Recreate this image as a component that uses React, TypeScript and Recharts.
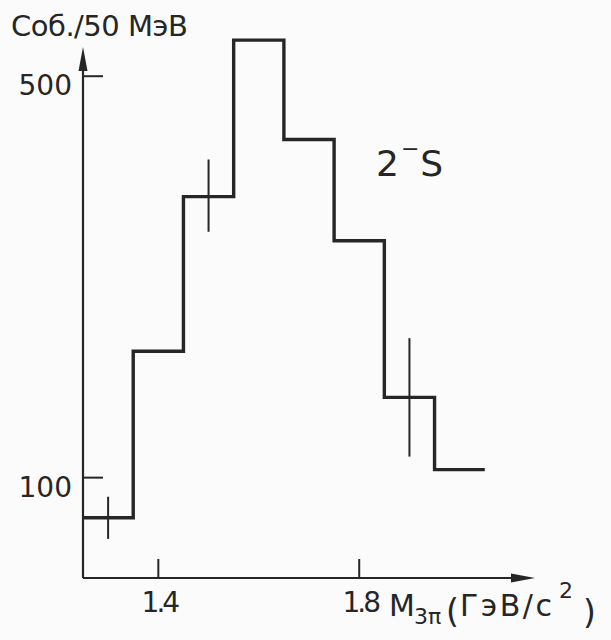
import {
  ComposedChart,
  Line,
  Scatter,
  ErrorBar,
  XAxis,
  YAxis,
  ReferenceLine,
} from "recharts";

// 3π mass spectrum, 2⁻S wave, 100 MeV bins
const binCenters = [1.3, 1.4, 1.5, 1.6, 1.7, 1.8, 1.9, 2.0];
const counts = [60, 226, 380, 536, 437, 336, 180, 108];
const binWidth = 0.1;

// statistical errors shown on a few bins
const errMass = [1.3, 1.5, 1.9];
const errCenter = [60, 381, 180];
const errSize = [21, 36, 59];

const xTicks = [1.4, 1.8];
const yTicks = [100, 500];

const X_MIN = 1.25;
const X_MAX = 2.15;
const Y_MAX = 560;
const Y_ARROW = 529;

const INK = "#262626";
const FONT = "DejaVu Sans";

// step-after points on bin edges, closed with the last bin's right edge
const histData = binCenters.map((c, i) => ({ m: c - binWidth / 2, n: counts[i] }));
histData.push({
  m: binCenters[binCenters.length - 1] + binWidth / 2,
  n: counts[counts.length - 1],
});

const errData = errMass.map((m, i) => ({ m, n: errCenter[i], err: errSize[i] }));

const Arrow = (props: any) => {
  const { x1, y1, x2, y2 } = props;
  const dx = x2 - x1;
  const dy = y2 - y1;
  const len = Math.hypot(dx, dy) || 1;
  const ux = dx / len;
  const uy = dy / len;
  const head = 24;
  const half = 4.5;
  const bx = x2 - ux * head;
  const by = y2 - uy * head;
  return (
    <g>
      <line x1={x1} y1={y1} x2={bx} y2={by} stroke={INK} strokeWidth={2.2} />
      <polygon
        points={`${x2},${y2} ${bx - uy * half},${by + ux * half} ${bx + uy * half},${by - ux * half}`}
        fill={INK}
      />
    </g>
  );
};

const YTick = (props: any) => {
  const { x, y, payload } = props;
  return (
    <g>
      <line x1={x} x2={x + 20} y1={y} y2={y} stroke={INK} strokeWidth={2} />
      <text
        x={x - 11}
        y={y + 19}
        textAnchor="end"
        fill={INK}
        fontFamily={FONT}
        fontSize={28}
      >
        {payload.value}
      </text>
    </g>
  );
};

const XTick = (props: any) => {
  const { x, y, payload } = props;
  return (
    <g>
      <line x1={x} x2={x} y1={y} y2={y - 19} stroke={INK} strokeWidth={2} />
      <text
        x={x + 1}
        y={y + 34}
        textAnchor="middle"
        fill={INK}
        fontFamily={FONT}
        fontSize={28}
        letterSpacing={-3}
      >
        {payload.value.toFixed(1)}
      </text>
    </g>
  );
};

export default function App() {
  return (
    <div style={{ position: "relative", width: 611, height: 640, background: "#fbfbfb" }}>
      <style>{"body{margin:0}"}</style>
      <ComposedChart
        width={611}
        height={640}
        margin={{ top: 16, right: 76, bottom: 0, left: 0 }}
      >
        <XAxis
          dataKey="m"
          type="number"
          domain={[X_MIN, X_MAX]}
          ticks={xTicks}
          tick={<XTick />}
          tickLine={false}
          axisLine={false}
          tickSize={0}
          tickMargin={0}
          height={62}
          allowDataOverflow
        />
        <YAxis
          type="number"
          domain={[0, Y_MAX]}
          ticks={yTicks}
          tick={<YTick />}
          tickLine={false}
          axisLine={false}
          tickSize={0}
          tickMargin={0}
          width={83}
          allowDataOverflow
        />
        <ReferenceLine
          segment={[
            { x: X_MIN, y: 0 },
            { x: X_MIN, y: Y_ARROW },
          ]}
          ifOverflow="visible"
          shape={Arrow}
        />
        <ReferenceLine
          segment={[
            { x: X_MIN, y: 0 },
            { x: X_MAX, y: 0 },
          ]}
          ifOverflow="visible"
          shape={Arrow}
        />
        <Line
          data={histData}
          dataKey="n"
          type="stepAfter"
          stroke={INK}
          strokeWidth={3.4}
          dot={false}
          activeDot={false}
          isAnimationActive={false}
        />
        <Scatter
          data={errData}
          dataKey="n"
          shape={() => <g />}
          isAnimationActive={false}
        >
          <ErrorBar
            dataKey="err"
            direction="y"
            width={0}
            stroke={INK}
            strokeWidth={2}
            isAnimationActive={false}
          />
        </Scatter>
      </ComposedChart>
      <svg
        width={611}
        height={640}
        style={{ position: "absolute", left: 0, top: 0, pointerEvents: "none" }}
        fontFamily={FONT}
        fill={INK}
      >
        <text x={11} y={36} fontSize={29} letterSpacing={-0.5}>
          Соб./50 МэВ
        </text>
        <text x={376} y={176} fontSize={36}>
          2
          <tspan dx={2} dy={-20} fontSize={22}>
            −
          </tspan>
          <tspan dx={1} dy={20}>S</tspan>
        </text>
        <g fontSize={30}>
          <text x={389} y={616}>M</text>
          <text x={414} y={624} fontSize={22}>3π</text>
          <text x={446} y={623} fontSize={33}>(</text>
          <text x={460} y={616} letterSpacing={2.5}>ГэВ/c</text>
          <text x={559} y={598} fontSize={22}>2</text>
          <text x={583} y={624} fontSize={33}>)</text>
        </g>
      </svg>
    </div>
  );
}
